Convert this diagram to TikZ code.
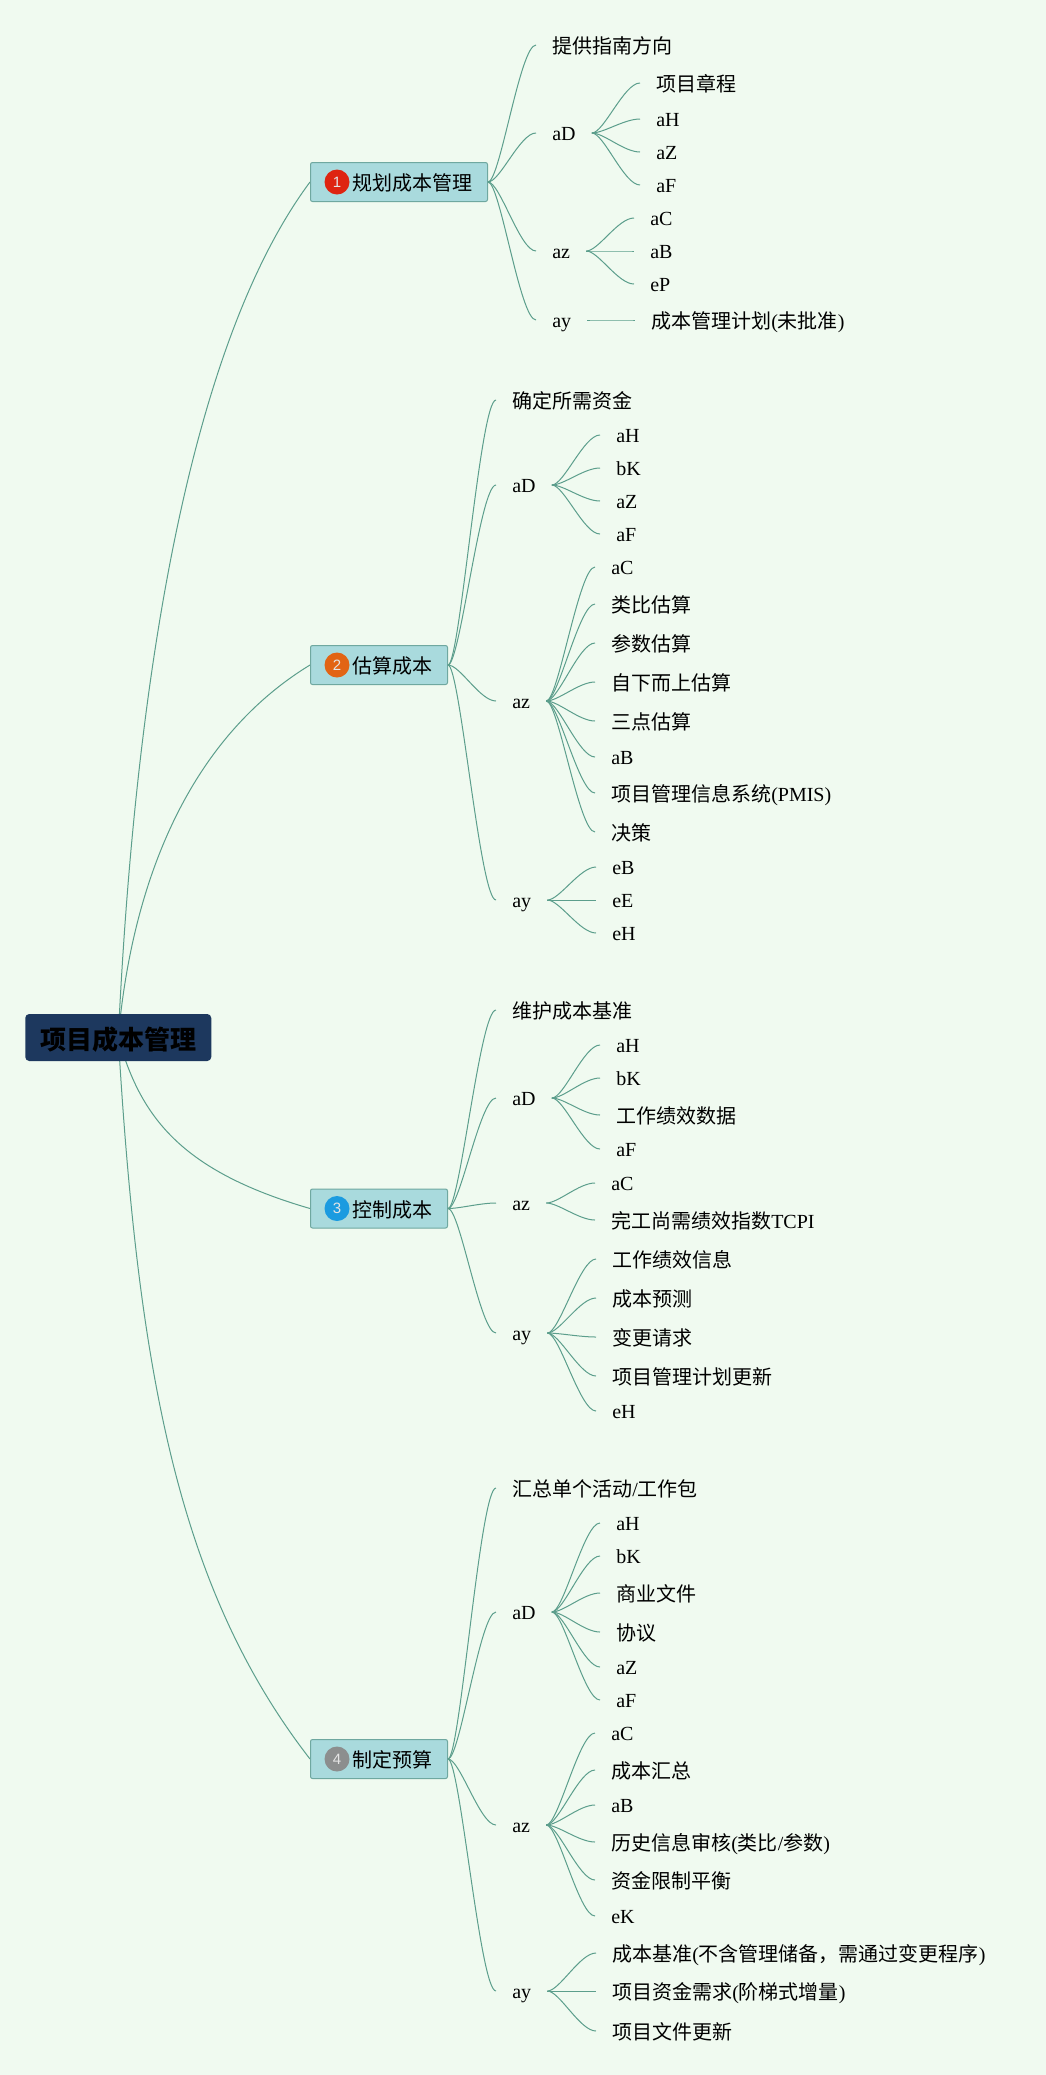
\documentclass[tikz,border=0pt]{standalone}
\usepackage{fontspec}
\setmainfont{Liberation Serif}
\newfontfamily\cjkfont{Noto Sans CJK SC}
\newfontfamily\digitfont{Liberation Sans}
\usetikzlibrary{backgrounds}
\newcommand{\zh}[1]{{\cjkfont #1}}
\definecolor{pagebg}{HTML}{F0FAF0}
\definecolor{linecol}{HTML}{5C9E8C}
\definecolor{rootfill}{HTML}{1D385E}
\definecolor{boxfill}{HTML}{A9DADD}
\definecolor{boxline}{HTML}{6FA8A0}
\definecolor{badgeone}{HTML}{DE2410}
\definecolor{badgetwo}{HTML}{E26414}
\definecolor{badgethree}{HTML}{1B9BE0}
\definecolor{badgefour}{HTML}{8C8E8E}
\tikzset{
	x=0.75pt,y=-0.75pt,
	leaf/.style={anchor=west,inner xsep=12pt,inner ysep=0pt,font=\fontsize{15}{18}\selectfont,text height=11.25pt,text depth=0.75pt},
	zleaf/.style={leaf,text height=13.5pt},
	branch/.style={anchor=west,draw=boxline,fill=boxfill,line width=0.75pt,rounded corners=1.5pt,inner xsep=11.25pt,inner ysep=0pt,minimum height=29.25pt,font=\fontsize{15}{18}\selectfont,text height=13.5pt,text depth=0.75pt},
	badge/.style={circle,inner sep=0pt,minimum size=18.75pt,text=white!90!black,font=\fontsize{11.25}{11.25}\selectfont\digitfont},
	rootbox/.style={anchor=west,fill=rootfill,rounded corners=3pt,inner sep=0pt,minimum width=139.5pt,minimum height=35.25pt,font=\fontsize{19.5}{22}\selectfont\bfseries,text height=18pt,text depth=0.75pt},
	link/.style={draw=linecol,line width=0.75pt,to path={.. controls +(12,0) and +(-16,0) .. (\tikztotarget)}},
	rootlink/.style={draw=linecol,line width=0.75pt}
}

\begin{document}
\begin{tikzpicture}
	\useasboundingbox (0,0) rectangle (1046,2075);

	\node[rootbox] (root) at (25,1037.5) {\zh{项目成本管理}};

	% first group
	\node[branch] (plan) at (310,182) {\hspace{20.25pt}\zh{规划成本管理}};
	\node[badge,fill=badgeone] (planb) at (337,182) {1};
	\node[zleaf] (plan1) at (536,45) {\zh{提供指南方向}};
	\node[leaf] (plan2) at (536,133) {aD};
	\node[leaf] (plan3) at (536,251) {az};
	\node[leaf] (plan4) at (536,320) {ay};
	\draw[link] (plan.east) to (plan1.west);
	\draw[link] (plan.east) to (plan2.west);
	\draw[link] (plan.east) to (plan3.west);
	\draw[link] (plan.east) to (plan4.west);

	\node[zleaf] (plan21) at (640,83) {\zh{项目章程}};
	\node[leaf] (plan22) at (640,119) {aH};
	\node[leaf] (plan23) at (640,152) {aZ};
	\node[leaf] (plan24) at (640,185) {aF};
	\draw[link] (plan2.east) to (plan21.west);
	\draw[link] (plan2.east) to (plan22.west);
	\draw[link] (plan2.east) to (plan23.west);
	\draw[link] (plan2.east) to (plan24.west);

	\node[leaf] (plan31) at (634,218) {aC};
	\node[leaf] (plan32) at (634,251) {aB};
	\node[leaf] (plan33) at (634,284) {eP};
	\draw[link] (plan3.east) to (plan31.west);
	\draw[link] (plan3.east) to (plan32.west);
	\draw[link] (plan3.east) to (plan33.west);

	\node[zleaf] (plan41) at (635,320) {\zh{成本管理计划}(\zh{未批准})};
	\draw[link] (plan4.east) to (plan41.west);

	% second group
	\node[branch] (est) at (310,665) {\hspace{20.25pt}\zh{估算成本}};
	\node[badge,fill=badgetwo] (estb) at (337,665) {2};
	\node[zleaf] (est1) at (496,400) {\zh{确定所需资金}};
	\node[leaf] (est2) at (496,485) {aD};
	\node[leaf] (est3) at (496,701) {az};
	\node[leaf] (est4) at (496,900) {ay};
	\draw[link] (est.east) to (est1.west);
	\draw[link] (est.east) to (est2.west);
	\draw[link] (est.east) to (est3.west);
	\draw[link] (est.east) to (est4.west);

	\node[leaf] (est21) at (600,435) {aH};
	\node[leaf] (est22) at (600,468) {bK};
	\node[leaf] (est23) at (600,501) {aZ};
	\node[leaf] (est24) at (600,534) {aF};
	\draw[link] (est2.east) to (est21.west);
	\draw[link] (est2.east) to (est22.west);
	\draw[link] (est2.east) to (est23.west);
	\draw[link] (est2.east) to (est24.west);

	\node[leaf] (est31) at (595,567) {aC};
	\node[zleaf] (est32) at (595,604) {\zh{类比估算}};
	\node[zleaf] (est33) at (595,643) {\zh{参数估算}};
	\node[zleaf] (est34) at (595,682) {\zh{自下而上估算}};
	\node[zleaf] (est35) at (595,721) {\zh{三点估算}};
	\node[leaf] (est36) at (595,757) {aB};
	\node[zleaf] (est37) at (595,793) {\zh{项目管理信息系统}(PMIS)};
	\node[zleaf] (est38) at (595,832) {\zh{决策}};
	\draw[link] (est3.east) to (est31.west);
	\draw[link] (est3.east) to (est32.west);
	\draw[link] (est3.east) to (est33.west);
	\draw[link] (est3.east) to (est34.west);
	\draw[link] (est3.east) to (est35.west);
	\draw[link] (est3.east) to (est36.west);
	\draw[link] (est3.east) to (est37.west);
	\draw[link] (est3.east) to (est38.west);

	\node[leaf] (est41) at (596,867) {eB};
	\node[leaf] (est42) at (596,900) {eE};
	\node[leaf] (est43) at (596,933) {eH};
	\draw[link] (est4.east) to (est41.west);
	\draw[link] (est4.east) to (est42.west);
	\draw[link] (est4.east) to (est43.west);

	% third group
	\node[branch] (ctrl) at (310,1208.5) {\hspace{20.25pt}\zh{控制成本}};
	\node[badge,fill=badgethree] (ctrlb) at (337,1208.5) {3};
	\node[zleaf] (ctrl1) at (496,1010) {\zh{维护成本基准}};
	\node[leaf] (ctrl2) at (496,1098) {aD};
	\node[leaf] (ctrl3) at (496,1203) {az};
	\node[leaf] (ctrl4) at (496,1333) {ay};
	\draw[link] (ctrl.east) to (ctrl1.west);
	\draw[link] (ctrl.east) to (ctrl2.west);
	\draw[link] (ctrl.east) to (ctrl3.west);
	\draw[link] (ctrl.east) to (ctrl4.west);

	\node[leaf] (ctrl21) at (600,1045) {aH};
	\node[leaf] (ctrl22) at (600,1078) {bK};
	\node[zleaf] (ctrl23) at (600,1115) {\zh{工作绩效数据}};
	\node[leaf] (ctrl24) at (600,1149) {aF};
	\draw[link] (ctrl2.east) to (ctrl21.west);
	\draw[link] (ctrl2.east) to (ctrl22.west);
	\draw[link] (ctrl2.east) to (ctrl23.west);
	\draw[link] (ctrl2.east) to (ctrl24.west);

	\node[leaf] (ctrl31) at (595,1183) {aC};
	\node[zleaf] (ctrl32) at (595,1220) {\zh{完工尚需绩效指数}TCPI};
	\draw[link] (ctrl3.east) to (ctrl31.west);
	\draw[link] (ctrl3.east) to (ctrl32.west);

	\node[zleaf] (ctrl41) at (596,1259) {\zh{工作绩效信息}};
	\node[zleaf] (ctrl42) at (596,1298) {\zh{成本预测}};
	\node[zleaf] (ctrl43) at (596,1337) {\zh{变更请求}};
	\node[zleaf] (ctrl44) at (596,1376) {\zh{项目管理计划更新}};
	\node[leaf] (ctrl45) at (596,1411) {eH};
	\draw[link] (ctrl4.east) to (ctrl41.west);
	\draw[link] (ctrl4.east) to (ctrl42.west);
	\draw[link] (ctrl4.east) to (ctrl43.west);
	\draw[link] (ctrl4.east) to (ctrl44.west);
	\draw[link] (ctrl4.east) to (ctrl45.west);

	% fourth group
	\node[branch] (cost) at (310,1759) {\hspace{20.25pt}\zh{制定预算}};
	\node[badge,fill=badgefour] (costb) at (337,1759) {4};
	\node[zleaf] (cost1) at (496,1488) {\zh{汇总单个活动}/\zh{工作包}};
	\node[leaf] (cost2) at (496,1612) {aD};
	\node[leaf] (cost3) at (496,1825) {az};
	\node[leaf] (cost4) at (496,1991) {ay};
	\draw[link] (cost.east) to (cost1.west);
	\draw[link] (cost.east) to (cost2.west);
	\draw[link] (cost.east) to (cost3.west);
	\draw[link] (cost.east) to (cost4.west);

	\node[leaf] (cost21) at (600,1523) {aH};
	\node[leaf] (cost22) at (600,1556) {bK};
	\node[zleaf] (cost23) at (600,1593) {\zh{商业文件}};
	\node[zleaf] (cost24) at (600,1632) {\zh{协议}};
	\node[leaf] (cost25) at (600,1667) {aZ};
	\node[leaf] (cost26) at (600,1700) {aF};
	\draw[link] (cost2.east) to (cost21.west);
	\draw[link] (cost2.east) to (cost22.west);
	\draw[link] (cost2.east) to (cost23.west);
	\draw[link] (cost2.east) to (cost24.west);
	\draw[link] (cost2.east) to (cost25.west);
	\draw[link] (cost2.east) to (cost26.west);

	\node[leaf] (cost31) at (595,1733) {aC};
	\node[zleaf] (cost32) at (595,1770) {\zh{成本汇总}};
	\node[leaf] (cost33) at (595,1805) {aB};
	\node[zleaf] (cost34) at (595,1842) {\zh{历史信息审核}(\zh{类比}/\zh{参数})};
	\node[zleaf] (cost35) at (595,1880) {\zh{资金限制平衡}};
	\node[leaf] (cost36) at (595,1916) {eK};
	\draw[link] (cost3.east) to (cost31.west);
	\draw[link] (cost3.east) to (cost32.west);
	\draw[link] (cost3.east) to (cost33.west);
	\draw[link] (cost3.east) to (cost34.west);
	\draw[link] (cost3.east) to (cost35.west);
	\draw[link] (cost3.east) to (cost36.west);

	\node[zleaf] (cost41) at (596,1953) {\zh{成本基准}(\zh{不含管理储备，需通过变更程序})};
	\node[zleaf] (cost42) at (596,1991) {\zh{项目资金需求}(\zh{阶梯式增量})};
	\node[zleaf] (cost43) at (596,2031) {\zh{项目文件更新}};
	\draw[link] (cost4.east) to (cost41.west);
	\draw[link] (cost4.east) to (cost42.west);
	\draw[link] (cost4.east) to (cost43.west);

	% page colour and the four long curves sit behind the root box
	\begin{scope}[on background layer]
		\fill[pagebg] (0,0) rectangle (1046,2075);
		\draw[rootlink] (root.center) .. controls +(16,-337) and +(-125,168) .. (plan.west);
		\draw[rootlink] (root.center) .. controls +(12,-137) and +(-131,80) .. (est.west);
		\draw[rootlink] (root.center) .. controls +(22,78) and +(-131,-38) .. (ctrl.west);
		\draw[rootlink] (root.center) .. controls +(20,338) and +(-131,-169) .. (cost.west);
	\end{scope}
\end{tikzpicture}
\end{document}
